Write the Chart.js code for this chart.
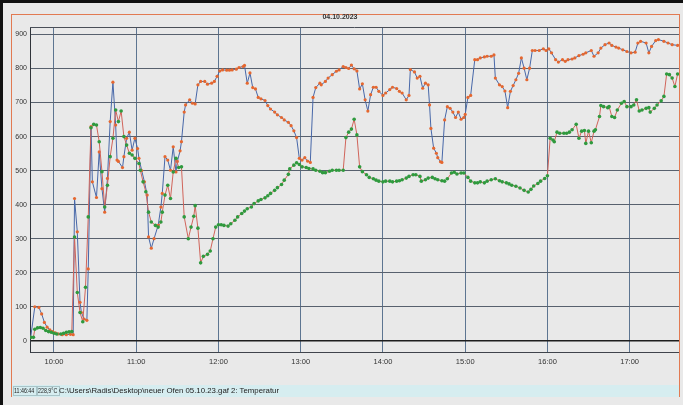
<!DOCTYPE html>
<html>
<head>
<meta charset="utf-8">
<script src="https://cdn.jsdelivr.net/npm/chart.js@4.4.0/dist/chart.umd.min.js"></script>
<style>
  html { background: #e9e9e9; }
  html, body { margin: 0; padding: 0; }
  body { width: 683px; height: 405px; background: #e9e9e9; position: relative; overflow: hidden;
         font-family: "Liberation Sans", Arial, sans-serif; }
  #chart { position: absolute; left: 0; top: 0; }
  #edgeTop { position: absolute; left: 0; top: 0; width: 683px; height: 3px; background: #111; }
  #edgeLeft { position: absolute; left: 0; top: 0; width: 3px; height: 405px; background: #111; }
  #inner { position: absolute; left: 11px; top: 14px; width: 669px; height: 383px; box-sizing: border-box;
           border: 1px solid #e27a52; pointer-events: none; }
  #title { position: absolute; left: 290px; width: 100px; top: 13px; text-align: center;
           font-size: 7px; font-weight: bold; color: #333; }
  #status { position: absolute; left: 12px; top: 385px; width: 667px; height: 12px; background: #d6edf0;
            font-size: 7.8px; color: #222; line-height: 12px; white-space: nowrap; overflow: hidden; }
  #status span { position: absolute; top: 0; }
  #status .box { border: 1px solid #a9c4c8; line-height: 8px; top: 1px; height: 8px; overflow: hidden; }
  #status .box b { display: inline-block; font-weight: normal; transform: scaleX(0.68); transform-origin: left center; }
</style>
</head>
<body>
<canvas id="chart" width="683" height="405"></canvas>
<div id="edgeTop"></div>
<div id="edgeLeft"></div>
<div id="inner"></div>
<div id="title">04.10.2023</div>
<div id="status">
  <span class="box" style="left:1px;width:22px"><b>11:46:44</b></span>
  <span class="box" style="left:25px;width:21px"><b>228,9°C</b></span>
  <span style="left:47px">C:\Users\Radis\Desktop\neuer Ofen 05.10.23.gaf 2: Temperatur</span>
</div>
<script>
// temperature log

var hourTicks = ['10:00', '11:00', '12:00', '13:00', '14:00', '15:00', '16:00', '17:00'];
var valueTicks = [0, 100, 200, 300, 400, 500, 600, 700, 800, 900];

// series 1 (orange markers, blue line)
var timesA = ['9:43','9:46','9:49','9:51','9:53','9:55','9:57','9:59','10:01','10:03','10:06','10:09','10:12','10:14',
  '10:15','10:17','10:19','10:20','10:22','10:24','10:25','10:27','10:28','10:31','10:33','10:35','10:37','10:39',
  '10:41','10:43','10:45','10:46','10:47','10:50','10:51','10:53','10:55','10:57','10:59','11:01','11:02','11:04',
  '11:06','11:08','11:09','11:11','11:13','11:16','11:18','11:19','11:21','11:23','11:25','11:27','11:29','11:30',
  '11:32','11:33','11:35','11:36','11:39','11:41','11:43','11:45','11:47','11:50','11:52','11:55','11:57','11:59',
  '12:01','12:03','12:06','12:08','12:10','12:13','12:15','12:18','12:19','12:21','12:23','12:25','12:27','12:29',
  '12:31','12:34','12:36','12:38','12:41','12:43','12:46','12:48','12:51','12:53','12:55','12:57','12:59','13:01',
  '13:03','13:05','13:07','13:09','13:11','13:14','13:15','13:18','13:20','13:23','13:26','13:28','13:31','13:33',
  '13:35','13:37','13:39','13:41','13:43','13:45','13:47','13:49','13:51','13:53','13:55','13:57','14:00','14:02',
  '14:05','14:07','14:10','14:12','14:14','14:17','14:19','14:20','14:23','14:25','14:27','14:29','14:31','14:33',
  '14:34','14:35','14:37','14:39','14:40','14:42','14:43','14:45','14:47','14:49','14:51','14:53','14:55','14:57',
  '14:59','15:00','15:02','15:04','15:07','15:09','15:11','15:14','15:16','15:19','15:21','15:22','15:25','15:27',
  '15:29','15:31','15:33','15:35','15:37','15:39','15:41','15:43','15:45','15:47','15:49','15:51','15:54','15:57',
  '15:59','16:01','16:03','16:06','16:08','16:11','16:13','16:15','16:18','16:20','16:23','16:26','16:28','16:32',
  '16:34','16:37','16:39','16:42','16:45','16:47','16:50','16:52','16:55','16:58','17:01','17:04','17:06','17:08',
  '17:12','17:14','17:16','17:19','17:21','17:25','17:28','17:31','17:35'];
var valuesA = [10,100,98,79,54,40,32,27,23,20,18,18,19,18,
  418,320,113,83,64,60,211,629,467,421,555,447,378,477,
  644,760,634,531,527,509,541,595,613,560,595,565,536,500,
  467,428,305,272,300,339,393,433,541,531,501,570,496,527,
  558,585,672,693,708,698,696,752,762,762,754,757,762,777,
  793,796,795,795,796,798,803,806,809,757,787,744,740,715,
  711,706,691,681,672,664,656,649,642,632,617,597,536,531,
  538,528,524,715,744,757,752,762,772,782,792,796,806,803,
  800,810,799,793,740,755,708,675,723,745,745,733,721,728,
  738,745,741,733,728,708,721,797,790,772,777,742,757,752,
  693,624,566,551,538,526,524,649,688,683,672,656,672,651,
  656,665,715,721,826,826,831,834,836,836,840,772,752,747,
  734,685,733,750,767,786,831,801,767,801,853,853,853,858,
  853,858,846,826,819,826,821,826,828,831,838,842,846,853,
  836,846,860,870,875,868,863,860,855,850,846,848,875,880,
  875,846,865,882,885,880,875,870,868];

// series 2 (green markers, red line)
var timesB = ['9:43','9:45','9:46','9:48','9:50','9:52','9:54','9:56','9:58','10:00','10:02','10:05','10:07','10:09',
  '10:11','10:13','10:15','10:17','10:19','10:21','10:23','10:25','10:27','10:29','10:31','10:33','10:35','10:37',
  '10:39','10:41','10:43','10:45','10:47','10:49','10:51','10:53','10:55','10:57','10:59','11:02','11:03','11:05',
  '11:07','11:09','11:11','11:14','11:16','11:18','11:19','11:21','11:23','11:25','11:27','11:29','11:31','11:33',
  '11:35','11:38','11:40','11:42','11:43','11:45','11:47','11:49','11:52','11:54','11:56','11:58','12:00','12:02',
  '12:04','12:07','12:09','12:12','12:14','12:17','12:19','12:21','12:24','12:26','12:29','12:31','12:34','12:36',
  '12:38','12:41','12:43','12:46','12:48','12:51','12:52','12:55','12:57','12:59','13:01','13:04','13:06','13:09',
  '13:11','13:14','13:16','13:18','13:21','13:23','13:26','13:28','13:31','13:33','13:35','13:37','13:39','13:41',
  '13:43','13:45','13:48','13:50','13:53','13:55','13:57','14:00','14:02','14:05','14:07','14:10','14:12','14:14',
  '14:17','14:19','14:22','14:24','14:27','14:28','14:31','14:33','14:36','14:38','14:40','14:43','14:45','14:47',
  '14:50','14:52','14:54','14:57','14:59','15:02','15:04','15:07','15:09','15:11','15:14','15:16','15:19','15:22',
  '15:25','15:27','15:30','15:32','15:34','15:37','15:40','15:43','15:46','15:48','15:50','15:53','15:55','15:58',
  '16:00','16:02','16:04','16:05','16:07','16:09','16:12','16:14','16:16','16:18','16:21','16:23','16:25','16:27',
  '16:28','16:30','16:32','16:34','16:35','16:38','16:39','16:41','16:44','16:45','16:47','16:49','16:51','16:54',
  '16:56','16:58','17:01','17:03','17:05','17:07','17:09','17:12','17:14','17:15','17:18','17:20','17:23','17:25',
  '17:27','17:29','17:31','17:33','17:35'];
var valuesB = [10,10,34,38,39,37,30,27,25,22,20,20,22,25,
  26,27,305,142,83,56,157,364,626,636,634,585,497,393,
  457,541,595,678,644,675,600,575,551,546,536,521,501,467,
  438,378,349,339,334,349,378,428,457,418,496,536,509,511,
  364,300,334,366,397,331,229,248,254,264,300,334,341,341,
  339,337,344,354,364,374,381,388,393,403,411,415,420,426,
  433,442,450,459,472,489,505,516,523,518,511,509,506,505,
  501,498,494,494,498,501,501,501,501,597,613,622,651,605,
  511,497,488,480,476,472,469,467,469,469,467,469,470,473,
  478,483,488,488,483,469,473,478,480,476,473,470,469,476,
  493,495,490,493,493,480,469,464,464,467,464,469,473,476,
  470,467,464,461,457,454,449,442,437,445,455,462,469,477,
  485,595,590,585,613,610,610,610,613,620,636,595,616,618,
  580,616,582,616,620,659,691,688,685,688,659,656,678,698,
  703,688,688,693,708,675,678,683,685,672,683,693,705,718,
  784,782,772,747,784];

function toMinutes(t) {
    var p = t.split(':');
    return parseInt(p[0], 10) * 60 + parseInt(p[1], 10);
}

function formatTime(m) {
    var h = Math.floor(m / 60);
    var mm = Math.round(m - h * 60);
    return (h < 10 ? '0' : '') + h + ':' + (mm < 10 ? '0' : '') + mm;
}

function toPoints(times, values) {
    return times.map(function(t, i) {
        return { x: toMinutes(t), y: values[i] };
    });
}

// draws the top edge of the plot box
var plotFrame = {
    id: 'plotFrame',
    afterDraw: function(chart) {
        var a = chart.chartArea;
        var ctx = chart.ctx;
        ctx.save();
        ctx.strokeStyle = '#4a4f58';
        ctx.lineWidth = 1;
        ctx.beginPath();
        ctx.moveTo(a.left, a.top + 0.5);
        ctx.lineTo(a.right, a.top + 0.5);
        ctx.stroke();
        ctx.restore();
    }
};

var ctx = document.getElementById('chart').getContext('2d');
new Chart(ctx, {
    type: 'line',
    data: {
        datasets: [{
            data: toPoints(timesB, valuesB),
            borderColor: '#d0645a',
            borderWidth: 1,
            pointRadius: 1.8,
            pointBorderWidth: 0,
            pointBackgroundColor: '#2f9a3e',
            tension: 0
        }, {
            data: toPoints(timesA, valuesA),
            borderColor: '#4767a8',
            borderWidth: 1,
            pointRadius: 1.6,
            pointBorderWidth: 0,
            pointBackgroundColor: '#e5672f',
            tension: 0
        }]
    },
    options: {
        responsive: false,
        animation: false,
        layout: { padding: { left: 6, right: 3, top: 27, bottom: 35 } },
        plugins: {
            legend: { display: false },
            tooltip: { enabled: false },
            title: { display: false }
        },
        scales: {
            x: {
                type: 'linear',
                min: 582.5,
                max: 1056,
                afterBuildTicks: function(axis) {
                    axis.ticks = hourTicks.map(function(t) { return { value: toMinutes(t) }; });
                },
                afterFit: function(axis) { axis.height = 18; },
                ticks: {
                    autoSkip: false,
                    maxRotation: 0,
                    padding: 5,
                    color: '#333',
                    font: { family: 'Liberation Sans, Arial', size: 7.5 },
                    callback: function(v) { return formatTime(v); }
                },
                grid: { color: '#5d7591', lineWidth: 1, drawTicks: false },
                border: { display: true, color: '#40444c', width: 1 }
            },
            y: {
                min: -33,
                max: 922,
                afterBuildTicks: function(axis) {
                    axis.ticks = valueTicks.map(function(v) { return { value: v }; });
                },
                afterFit: function(axis) { axis.width = 24; },
                ticks: {
                    padding: 3,
                    color: '#333',
                    font: { family: 'Liberation Sans, Arial', size: 7 }
                },
                grid: {
                    drawTicks: false,
                    color: function(c) { return c.tick && c.tick.value === 0 ? '#1e1e1e' : '#58616e'; },
                    lineWidth: function(c) { return c.tick && c.tick.value === 0 ? 1.5 : 1; }
                },
                border: { display: true, color: '#30343a', width: 1 }
            }
        }
    },
    plugins: [plotFrame]
});
</script>
</body>
</html>
